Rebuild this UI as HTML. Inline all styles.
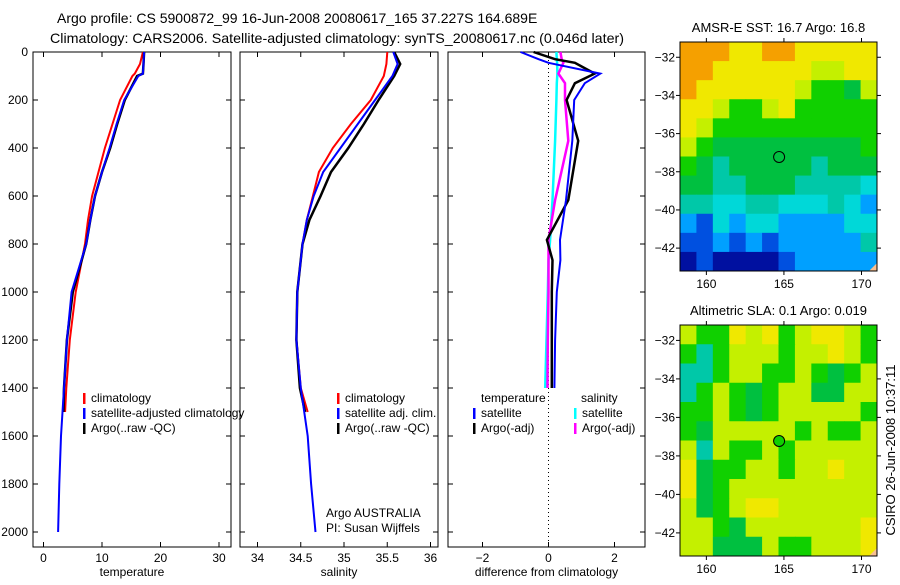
<!DOCTYPE html>
<html><head><meta charset="utf-8">
<style>
body{margin:0;background:#fff;}
svg text{font-family:"Liberation Sans",sans-serif;fill:#000;}
</style></head>
<body>
<svg id="chart" width="900" height="580" viewBox="0 0 900 580" xmlns="http://www.w3.org/2000/svg">
<rect width="900" height="580" fill="#fff"/>
<text x="57" y="23" font-size="14">Argo profile: CS 5900872_99 16-Jun-2008 20080617_165 37.227S 164.689E</text>
<text x="50" y="43" font-size="14" textLength="574" lengthAdjust="spacingAndGlyphs">Climatology: CARS2006. Satellite-adjusted climatology: synTS_20080617.nc (0.046d later)</text>
<g id="panels"></g>
<g id="maps"></g>
<text transform="translate(895,450) rotate(-90)" text-anchor="middle" font-size="13">CSIRO 26-Jun-2008 10:37:11</text>
</svg>
<script>
// ---- data ----
const tDepth = [0,50,90,100,200,300,400,500,600,700,800,1000,1200,1400,1500];
const tClim  = [17.0,16.5,15.6,15.2,13.1,11.8,10.5,9.4,8.3,7.6,7.1,5.5,4.5,3.9,3.7];
const tArgoDepth = [0,50,90,100,200,300,400,500,600,700,800,1000,1200,1400,1500];
const tArgo  = [17.2,17.1,17.0,16.0,13.9,12.6,11.4,10.0,8.8,8.0,7.3,5.0,4.0,3.5,3.4];
const tSatDepth = [0,50,90,100,200,300,400,500,600,700,800,1000,1200,1400,1600,1800,2000];
const tSat   = [17.2,17.1,17.0,16.2,13.8,12.5,11.3,10.0,8.8,8.0,7.3,4.8,4.0,3.5,3.0,2.7,2.5];

const sDepth = [0,50,100,200,300,400,500,600,700,800,1000,1200,1400,1500];
const sClim  = [35.50,35.49,35.46,35.31,35.08,34.87,34.71,34.64,34.57,34.52,34.46,34.45,34.50,34.58];
const sArgo  = [35.58,35.65,35.58,35.40,35.23,35.05,34.85,34.73,34.60,34.52,34.46,34.45,34.49,34.55];
const sSatDepth = [0,50,100,200,300,400,500,600,700,800,1000,1200,1400,1600,1800,2000];
const sSat   = [35.57,35.62,35.56,35.36,35.16,34.96,34.76,34.65,34.57,34.52,34.46,34.45,34.50,34.58,34.62,34.67];

const dDepth = [0,30,45,90,130,200,370,617,783,867,1000,1200,1400];
const dTempSat  = [-0.85,-0.3,0.0,1.57,1.1,0.78,0.72,0.53,0.35,0.36,0.25,0.2,0.18];
const dTempArgo = [-0.45,0.2,0.8,1.4,0.8,0.55,0.9,0.6,-0.05,0.12,0.1,0.1,0.1];
const dSalArgo  = [0.36,0.4,0.45,0.3,0.5,0.5,0.6,0.2,0.0,0.0,0.0,-0.02,-0.03];
const dSalSat   = [0.24,0.25,0.26,0.27,0.25,0.24,0.2,0.12,0.05,0.0,-0.02,-0.06,-0.1];

const depthTicks = [0,200,400,600,800,1000,1200,1400,1600,1800,2000];
const tTicks = [0,10,20,30];
const sTicks = [34,34.5,35,35.5,36];
const sTickLabels = ["34","34.5","35","35.5","36"];
const dTicks = [-2,0,2];

const NS="http://www.w3.org/2000/svg";
function mk(tag,attrs,parent){const e=document.createElementNS(NS,tag);for(const k in attrs)e.setAttribute(k,attrs[k]);parent.appendChild(e);return e;}
const Y = d => 52 + d*0.24;
const P = document.getElementById('panels');

function panel(name,x0,x1,xfun,ticks,labels,xlabel){
  const g=mk('g',{},P);
  
  
  const fr=mk('rect',{x:x0,y:52,width:x1-x0,height:495,fill:'none',stroke:'#000','stroke-width':1},g);
  
  
  ticks.forEach((t,i)=>{const x=xfun(t);
    mk('line',{x1:x,x2:x,y1:547,y2:542,stroke:'#000'},g);
    mk('line',{x1:x,x2:x,y1:52,y2:57,stroke:'#000'},g);
    const tx=mk('text',{x:x,y:562,'text-anchor':'middle','font-size':12},g);tx.textContent=labels[i];
    
    
  });
  depthTicks.forEach(d=>{const y=Y(d);
    mk('line',{x1:x0,x2:x0+5,y1:y,y2:y,stroke:'#000'},g);
    mk('line',{x1:x1,x2:x1-5,y1:y,y2:y,stroke:'#000'},g);
  });
  const xl=mk('text',{x:(x0+x1)/2,y:576,'text-anchor':'middle','font-size':12},g);xl.textContent=xlabel;
  
  
  return g;
}
function line(g,depths,vals,xfun,color,w,name){
  const pts=depths.map((d,i)=>xfun(vals[i]).toFixed(1)+','+Y(d).toFixed(1)).join(' ');
  const l=mk('polyline',{points:pts,fill:'none',stroke:color,'stroke-width':w},g);
  
  
}
function legend(g,x,y,items){
  items.forEach((it,i)=>{
    mk('rect',{x:x,y:y+i*15-9,width:2.5,height:11,fill:it[0]},g);
    const t=mk('text',{x:x+8,y:y+i*15,'font-size':12},g);t.textContent=it[1];
    
    
  });
}
depthTicks.forEach(d=>{const t=mk('text',{x:28,y:Y(d)+4,'text-anchor':'end','font-size':12},P);t.textContent=d;
  
  });

const xT=v=>43.5+v*5.85;
const g1=panel('temperature',33,231,xT,tTicks,tTicks.map(String),'temperature');
line(g1,tDepth,tClim,xT,'#f00',2,'temp-climatology-line');
line(g1,tArgoDepth,tArgo,xT,'#000',2.5,'temp-argo-line');
line(g1,tSatDepth,tSat,xT,'#00f',2,'temp-satellite-line');
legend(g1,83,402,[['#f00','climatology'],['#00f','satellite-adjusted climatology'],['#000','Argo(..raw -QC)']]);

const xS=v=>257.5+(v-34)*86.5;
const g2=panel('salinity',240,438,xS,sTicks,sTickLabels,'salinity');
line(g2,sDepth,sClim,xS,'#f00',2,'sal-climatology-line');
line(g2,sDepth,sArgo,xS,'#000',2.5,'sal-argo-line');
line(g2,sSatDepth,sSat,xS,'#00f',2,'sal-satellite-line');
legend(g2,337,402,[['#f00','climatology'],['#00f','satellite adj. clim.'],['#000','Argo(..raw -QC)']]);
const a1=mk('text',{x:326,y:517,'font-size':12},g2);a1.textContent='Argo AUSTRALIA';


const a2=mk('text',{x:326,y:532,'font-size':12},g2);a2.textContent='PI: Susan Wijffels';



const xD=v=>548.5+v*33;
const g3=panel('difference',448,645,xD,dTicks,dTicks.map(v=>v<0?'\u2212'+(-v):String(v)),'difference from climatology');
mk('line',{x1:xD(0),x2:xD(0),y1:52,y2:547,stroke:'#000','stroke-dasharray':'1,3'},g3);
line(g3,dDepth,dSalSat,xD,'#0ff',2.5,'sal-satellite-diff-line');
line(g3,dDepth,dSalArgo,xD,'#f0f',2.5,'sal-argo-diff-line');
line(g3,dDepth,dTempArgo,xD,'#000',2.5,'temp-argo-diff-line');
line(g3,dDepth,dTempSat,xD,'#00f',2,'temp-satellite-diff-line');
const lt=mk('text',{x:481,y:402,'font-size':12},g3);lt.textContent='temperature';


const ls=mk('text',{x:581,y:402,'font-size':12},g3);ls.textContent='salinity';


legend(g3,473,417,[['#00f','satellite'],['#000','Argo(-adj)']]);
legend(g3,574,417,[['#0ff','satellite'],['#f0f','Argo(-adj)']]);

// ---- maps ----
const pal={O:'#f5a000',Y:'#f0e800',y:'#c4f000',G:'#10d000',g:'#00c040',c:'#00c8a8',C:'#00d8d8',L:'#00a0ff',B:'#0050e0',D:'#0010a0'};
const sstGrid=["OOOYYOOYYYYY","OOYYYYYYyyYY","OYYYYYYyGGgy","YYyGGyYGGGGG","YyGGGGGGGGGG","yGgggggggggG","Ggcgggggcggg","ggccgggccccC","ccCCccCCCcCL","LBCLCCLLLLCC","BBLBLBLLLLLc","DBDDDDBLLLLL"];
const slaGrid=["yGGYyYGyYYyG","GcGyyyGyyYyG","ccGyyGGyGgGy","cGyGgGyyggyy","GGyGgGyyyyyG","GgyyyyyGyGGy","ycyGGyGyyyyy","YgGGyyGyyYyy","YgGyyyyyyyyy","ygGyYYyyyyyy","yyGgyyyyyyyY","yygggyGGyyyY"];
const latTicks=[-32,-34,-36,-38,-40,-42];
const lonTicks=[160,165,170];
const argoLon=164.689, argoLat=-37.227;
const M=document.getElementById('maps');
function map(name,top,h,grid,title,fillCircle){
  const x0=680,x1=877;
  const lon=v=>x0+(v-158.3)*(x1-x0)/(171-158.3);
  const lat=v=>top+(-31.2-v)*h/(43.2-31.2);
  const g=mk('g',{},M);
  
  
  const rows=grid.length, cols=grid[0].length, cw=(x1-x0)/cols, ch=h/rows;
  grid.forEach((r,i)=>{for(let j=0;j<cols;j++){mk('rect',{x:x0+j*cw,y:top+i*ch,width:cw+0.5,height:ch+0.5,fill:pal[r[j]]||pal.G},g);}});
  mk('path',{d:`M${x1-8},${top+h} L${x1},${top+h-8} L${x1},${top+h} Z`,fill:'#f8c090'},g);
  mk('rect',{x:x0,y:top,width:x1-x0,height:h,fill:'none',stroke:'#000'},g);
  const t=mk('text',{x:(x0+x1)/2,y:top-10,'text-anchor':'middle','font-size':13},g);t.textContent=title;
  
  
  latTicks.forEach(v=>{const y=lat(v);mk('line',{x1:x0-4,x2:x0,y1:y,y2:y,stroke:'#000'},g);mk('line',{x1:x1,x2:x1+4,y1:y,y2:y,stroke:'#000'},g);
    const l=mk('text',{x:x0-5,y:y+4,'text-anchor':'end','font-size':12},g);l.textContent=String(v).replace('-','\u2212');
    
    });
  lonTicks.forEach(v=>{const x=lon(v);mk('line',{x1:x,x2:x,y1:top+h,y2:top+h+4,stroke:'#000'},g);mk('line',{x1:x,x2:x,y1:top,y2:top-4,stroke:'#000'},g);
    const l=mk('text',{x:x,y:top+h+17,'text-anchor':'middle','font-size':12},g);l.textContent=v;
    
    });
  const c=mk('circle',{cx:lon(argoLon),cy:lat(argoLat),r:5.5,fill:fillCircle,stroke:'#000'},g);
  
  
}
map('sst-map',42,229,sstGrid,'AMSR-E SST: 16.7 Argo: 16.8','none');
map('sla-map',325,231,slaGrid,'Altimetric SLA: 0.1 Argo: 0.019','#10d000');
</script>
</body></html>
